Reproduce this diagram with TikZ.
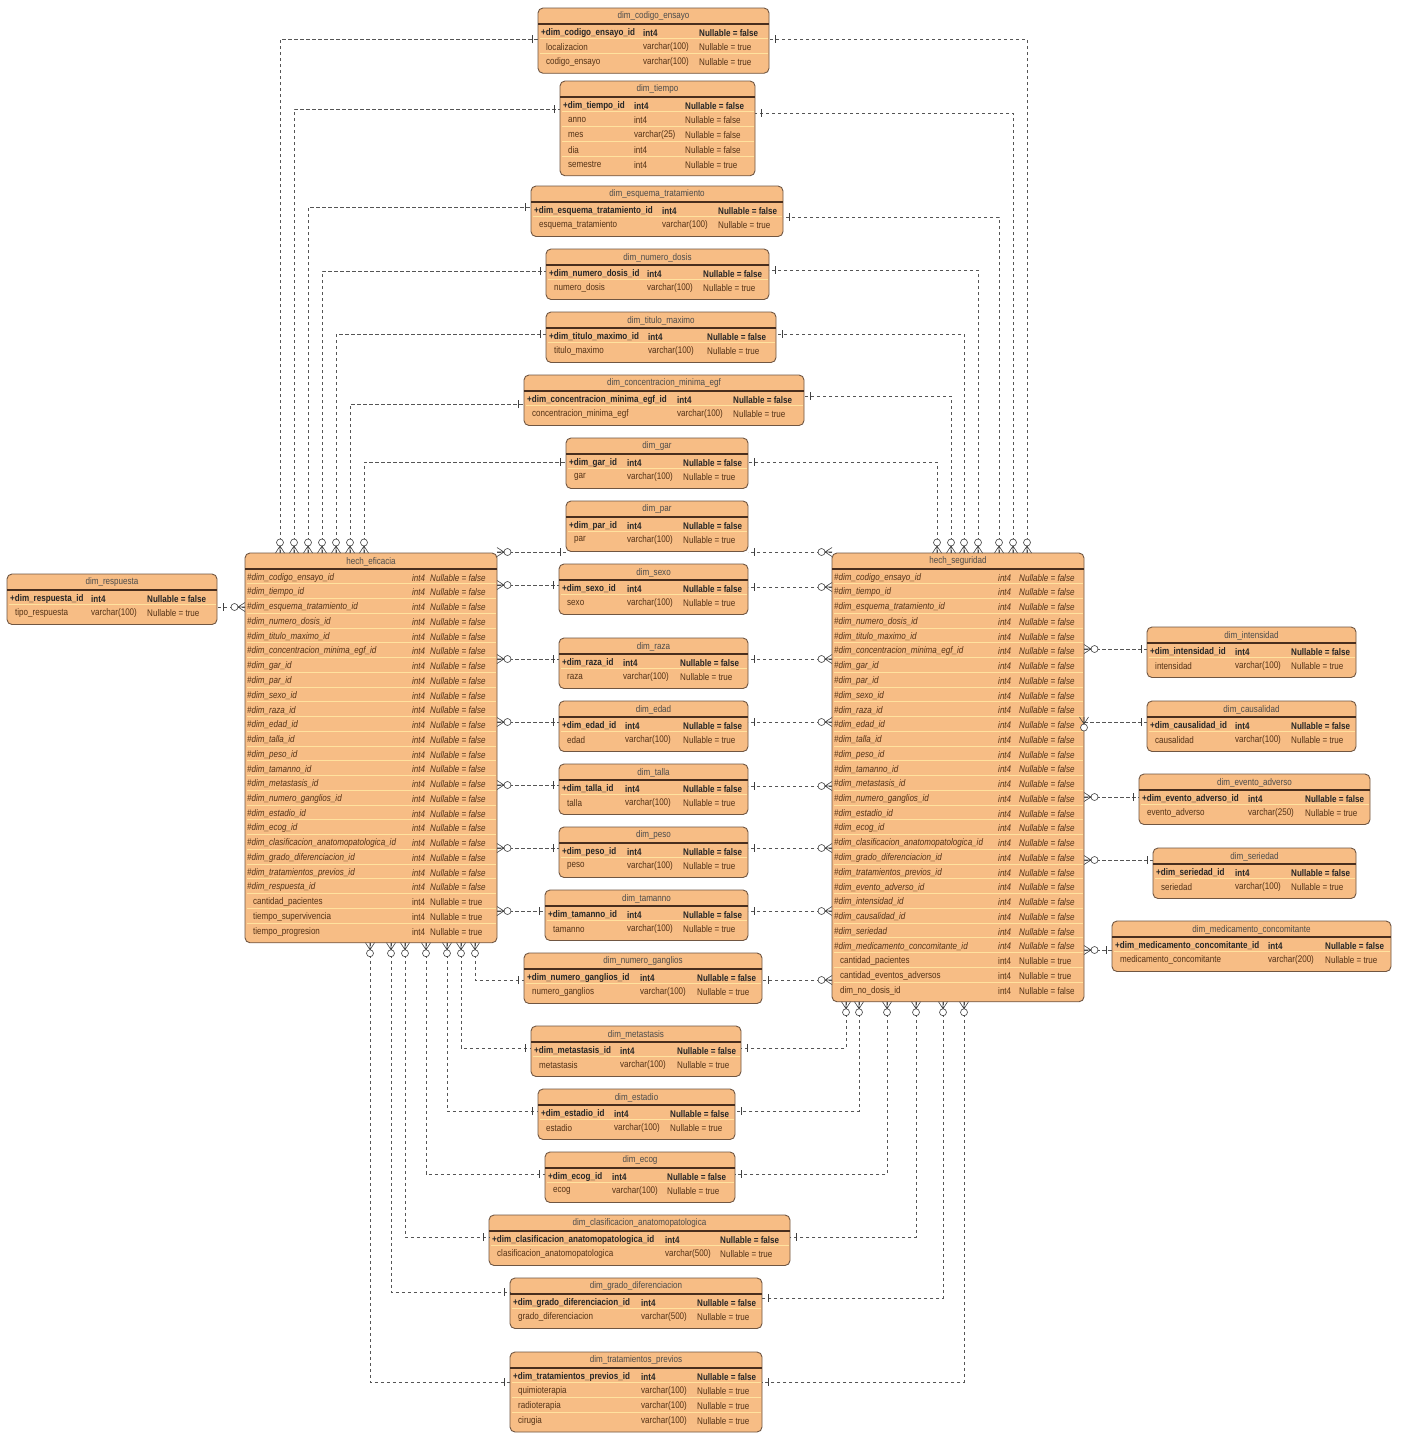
\documentclass[tikz,border=0pt]{standalone}
\usepackage{fontspec}
\setmainfont{Liberation Sans}[FakeStretch=0.84]

\definecolor{tablafondo}{RGB}{247,189,133}
\definecolor{tablaborde}{RGB}{112,86,66}
\definecolor{cabecera}{RGB}{72,46,30}
\definecolor{separador}{RGB}{255,226,158}
\definecolor{texto}{RGB}{84,50,22}
\definecolor{relacion}{RGB}{85,85,85}

\tikzset{
  tabla/.style={draw=tablaborde, fill=tablafondo, rounded corners=5pt, line width=0.9pt, inner sep=0pt, outer sep=0pt},
  celda/.style={anchor=west, inner sep=0pt, text=texto, font=\fontsize{9.6}{10}\selectfont},
  clave/.style={celda, text=black!85, font=\fontsize{9.6}{10}\selectfont\bfseries},
  foranea/.style={celda, font=\fontsize{9.6}{10}\selectfont\itshape},
  titulo/.style={celda, anchor=center, text=black!70},
  rel/.style={draw=relacion, line width=0.6pt, dash pattern=on 3.5pt off 2.5pt},
  marca/.style={draw=black!75, line width=0.6pt},
}

\catcode`\_=12

% table frame: name, left, top, right, rows
\newcommand{\tabla}[5]{%
  \pgfmathsetmacro{\ancho}{#4-#2}
  \pgfmathsetmacro{\alto}{21+14.75*#5}
  \pgfmathtruncatemacro{\ultima}{#5-1}
  \node[tabla, anchor=north west, minimum width=\ancho pt, minimum height=\alto pt] (#1) at (#2,#3) {};
  \foreach \k in {1,...,\ultima}
    \draw[separador, line width=0.8pt] ([shift={(1.5,16+14.75*\k)}]#1.north west) -- ([shift={(-1.5,16+14.75*\k)}]#1.north east);
  \draw[cabecera, line width=1.1pt] ([yshift=-16pt]#1.north west) -- ([yshift=-16pt]#1.north east);
  \node[titulo] at ([yshift=-8.5pt]#1.north) {#1};
}

% dim rows: table, type column, null column, rows (first one is the key)
\newcommand{\filas}[4]{%
  \foreach \campo/\tipo/\nulo [count=\i] in {#4} {
    \pgfmathsetmacro{\dy}{17.2+14.75*(\i-0.5)}
    \ifnum\i=1
      \node[clave] at ([shift={(3,\dy)}]#1.north west) {\campo};
      \node[clave] at ([shift={(#2,\dy)}]#1.north west) {\tipo};
      \node[clave] at ([shift={(#3,\dy)}]#1.north west) {\nulo};
    \else
      \node[celda] at ([shift={(8,\dy)}]#1.north west) {\campo};
      \node[celda] at ([shift={(#2,\dy)}]#1.north west) {\tipo};
      \node[celda] at ([shift={(#3,\dy)}]#1.north west) {\nulo};
    \fi
  }
}

% fact rows: table, type column, null column, foreign keys, first plain row, plain rows
\newcommand{\filashecho}[6]{%
  \foreach \campo [count=\i] in {#4} {
    \pgfmathsetmacro{\dy}{17.2+14.75*(\i-0.5)}
    \node[foranea] at ([shift={(2,\dy)}]#1.north west) {\#\campo};
    \node[foranea] at ([shift={(#2,\dy)}]#1.north west) {int4};
    \node[foranea] at ([shift={(#3,\dy)}]#1.north west) {Nullable = false};
  }
  \foreach \campo/\nulo [count=\i from #5] in {#6} {
    \pgfmathsetmacro{\dy}{17.2+14.75*(\i-0.5)}
    \node[celda] at ([shift={(8,\dy)}]#1.north west) {\campo};
    \node[celda] at ([shift={(#2,\dy)}]#1.north west) {int4};
    \node[celda] at ([shift={(#3,\dy)}]#1.north west) {\nulo};
  }
}

% zero or many end, one end
\newcommand{\muchos}[2]{%
  \draw[marca, shift={(#1)}, rotate=#2] (0,-4.5) -- (7,0) -- (0,4.5) (0,0) -- (7,0);
  \draw[marca, fill=white, shift={(#1)}, rotate=#2] (10.5,0) circle (3.5);
}
\newcommand{\uno}[2]{%
  \draw[marca, shift={(#1)}, rotate=#2] (6,-4) -- (6,4);
}

\begin{document}
\begin{tikzpicture}[x=1pt, y=-1pt]
  \fill[white] (0,0) rectangle (1404,1435);
  \useasboundingbox (0,0) rectangle (1404,1435);

  % fact tables
  \tabla{hech_eficacia}{245}{553}{497}{25}
  \filashecho{hech_eficacia}{167}{185}{dim_codigo_ensayo_id, dim_tiempo_id, dim_esquema_tratamiento_id,
    dim_numero_dosis_id, dim_titulo_maximo_id, dim_concentracion_minima_egf_id, dim_gar_id, dim_par_id,
    dim_sexo_id, dim_raza_id, dim_edad_id, dim_talla_id, dim_peso_id, dim_tamanno_id, dim_metastasis_id,
    dim_numero_ganglios_id, dim_estadio_id, dim_ecog_id, dim_clasificacion_anatomopatologica_id,
    dim_grado_diferenciacion_id, dim_tratamientos_previos_id, dim_respuesta_id}{23}%
    {cantidad_pacientes/Nullable = true, tiempo_supervivencia/Nullable = true, tiempo_progresion/Nullable = true}

  \tabla{hech_seguridad}{832}{553}{1084}{29}
  \filashecho{hech_seguridad}{166}{187}{dim_codigo_ensayo_id, dim_tiempo_id, dim_esquema_tratamiento_id,
    dim_numero_dosis_id, dim_titulo_maximo_id, dim_concentracion_minima_egf_id, dim_gar_id, dim_par_id,
    dim_sexo_id, dim_raza_id, dim_edad_id, dim_talla_id, dim_peso_id, dim_tamanno_id, dim_metastasis_id,
    dim_numero_ganglios_id, dim_estadio_id, dim_ecog_id, dim_clasificacion_anatomopatologica_id,
    dim_grado_diferenciacion_id, dim_tratamientos_previos_id, dim_evento_adverso_id, dim_intensidad_id,
    dim_causalidad_id, dim_seriedad, dim_medicamento_concomitante_id}{27}%
    {cantidad_pacientes/Nullable = true, cantidad_eventos_adversos/Nullable = true, dim_no_dosis_id/Nullable = false}

  % dims, top column
  \tabla{dim_codigo_ensayo}{538}{8}{769}{3}
  \filas{dim_codigo_ensayo}{105}{161}{+dim_codigo_ensayo_id/int4/Nullable = false,
    localizacion/varchar(100)/Nullable = true, codigo_ensayo/varchar(100)/Nullable = true}
  \tabla{dim_tiempo}{560}{81}{755}{5}
  \filas{dim_tiempo}{74}{125}{+dim_tiempo_id/int4/Nullable = false, anno/int4/Nullable = false,
    mes/varchar(25)/Nullable = false, dia/int4/Nullable = false, semestre/int4/Nullable = true}
  \tabla{dim_esquema_tratamiento}{531}{186}{783}{2}
  \filas{dim_esquema_tratamiento}{131}{187}{+dim_esquema_tratamiento_id/int4/Nullable = false,
    esquema_tratamiento/varchar(100)/Nullable = true}
  \tabla{dim_numero_dosis}{546}{249}{769}{2}
  \filas{dim_numero_dosis}{101}{157}{+dim_numero_dosis_id/int4/Nullable = false, numero_dosis/varchar(100)/Nullable = true}
  \tabla{dim_titulo_maximo}{546}{312}{776}{2}
  \filas{dim_titulo_maximo}{102}{161}{+dim_titulo_maximo_id/int4/Nullable = false, titulo_maximo/varchar(100)/Nullable = true}
  \tabla{dim_concentracion_minima_egf}{524}{375}{804}{2}
  \filas{dim_concentracion_minima_egf}{153}{209}{+dim_concentracion_minima_egf_id/int4/Nullable = false,
    concentracion_minima_egf/varchar(100)/Nullable = true}
  \tabla{dim_gar}{566}{438}{748}{2}
  \filas{dim_gar}{61}{117}{+dim_gar_id/int4/Nullable = false, gar/varchar(100)/Nullable = true}

  % dims, middle column
  \tabla{dim_par}{566}{501}{748}{2}
  \filas{dim_par}{61}{117}{+dim_par_id/int4/Nullable = false, par/varchar(100)/Nullable = true}
  \tabla{dim_sexo}{559}{564}{748}{2}
  \filas{dim_sexo}{68}{124}{+dim_sexo_id/int4/Nullable = false, sexo/varchar(100)/Nullable = true}
  \tabla{dim_raza}{559}{638}{748}{2}
  \filas{dim_raza}{64}{121}{+dim_raza_id/int4/Nullable = false, raza/varchar(100)/Nullable = true}
  \tabla{dim_edad}{559}{701}{748}{2}
  \filas{dim_edad}{66}{124}{+dim_edad_id/int4/Nullable = false, edad/varchar(100)/Nullable = true}
  \tabla{dim_talla}{559}{764}{748}{2}
  \filas{dim_talla}{66}{124}{+dim_talla_id/int4/Nullable = false, talla/varchar(100)/Nullable = true}
  \tabla{dim_peso}{559}{827}{748}{2}
  \filas{dim_peso}{68}{124}{+dim_peso_id/int4/Nullable = false, peso/varchar(100)/Nullable = true}
  \tabla{dim_tamanno}{545}{890}{748}{2}
  \filas{dim_tamanno}{82}{138}{+dim_tamanno_id/int4/Nullable = false, tamanno/varchar(100)/Nullable = true}
  \tabla{dim_numero_ganglios}{524}{953}{762}{2}
  \filas{dim_numero_ganglios}{116}{173}{+dim_numero_ganglios_id/int4/Nullable = false,
    numero_ganglios/varchar(100)/Nullable = true}

  % dims, bottom column
  \tabla{dim_metastasis}{531}{1026}{741}{2}
  \filas{dim_metastasis}{89}{146}{+dim_metastasis_id/int4/Nullable = false, metastasis/varchar(100)/Nullable = true}
  \tabla{dim_estadio}{538}{1089}{735}{2}
  \filas{dim_estadio}{76}{132}{+dim_estadio_id/int4/Nullable = false, estadio/varchar(100)/Nullable = true}
  \tabla{dim_ecog}{545}{1152}{735}{2}
  \filas{dim_ecog}{67}{122}{+dim_ecog_id/int4/Nullable = false, ecog/varchar(100)/Nullable = true}
  \tabla{dim_clasificacion_anatomopatologica}{489}{1215}{790}{2}
  \filas{dim_clasificacion_anatomopatologica}{176}{231}{+dim_clasificacion_anatomopatologica_id/int4/Nullable = false,
    clasificacion_anatomopatologica/varchar(500)/Nullable = true}
  \tabla{dim_grado_diferenciacion}{510}{1278}{762}{2}
  \filas{dim_grado_diferenciacion}{131}{187}{+dim_grado_diferenciacion_id/int4/Nullable = false,
    grado_diferenciacion/varchar(500)/Nullable = true}
  \tabla{dim_tratamientos_previos}{510}{1352}{762}{4}
  \filas{dim_tratamientos_previos}{131}{187}{+dim_tratamientos_previos_id/int4/Nullable = false,
    quimioterapia/varchar(100)/Nullable = true, radioterapia/varchar(100)/Nullable = true,
    cirugia/varchar(100)/Nullable = true}

  % dims, right and left
  \tabla{dim_intensidad}{1147}{627}{1356}{2}
  \filas{dim_intensidad}{88}{144}{+dim_intensidad_id/int4/Nullable = false, intensidad/varchar(100)/Nullable = true}
  \tabla{dim_causalidad}{1147}{701}{1356}{2}
  \filas{dim_causalidad}{88}{144}{+dim_causalidad_id/int4/Nullable = false, causalidad/varchar(100)/Nullable = true}
  \tabla{dim_evento_adverso}{1139}{774}{1370}{2}
  \filas{dim_evento_adverso}{109}{166}{+dim_evento_adverso_id/int4/Nullable = false,
    evento_adverso/varchar(250)/Nullable = true}
  \tabla{dim_seriedad}{1153}{848}{1356}{2}
  \filas{dim_seriedad}{82}{138}{+dim_seriedad_id/int4/Nullable = false, seriedad/varchar(100)/Nullable = true}
  \tabla{dim_medicamento_concomitante}{1112}{921}{1391}{2}
  \filas{dim_medicamento_concomitante}{156}{213}{+dim_medicamento_concomitante_id/int4/Nullable = false,
    medicamento_concomitante/varchar(200)/Nullable = true}
  \tabla{dim_respuesta}{7}{574}{217}{2}
  \filas{dim_respuesta}{84}{140}{+dim_respuesta_id/int4/Nullable = false, tipo_respuesta/varchar(100)/Nullable = true}

  % relations above the facts
  \foreach \tab/\dx/\y in {dim_codigo_ensayo/35/39, dim_tiempo/49/109, dim_esquema_tratamiento/63/207,
      dim_numero_dosis/77/271, dim_titulo_maximo/91/334, dim_concentracion_minima_egf/105/404, dim_gar/119/462} {
    \coordinate (pie) at ([xshift=\dx pt]hech_eficacia.north west);
    \coordinate (extremo) at (\tab.west |- 0,\y);
    \draw[rel] (pie) |- (extremo);
    \muchos{pie}{90}
    \uno{extremo}{180}
  }
  \foreach \tab/\dx/\y in {dim_codigo_ensayo/195/39, dim_tiempo/181/113, dim_esquema_tratamiento/167/217,
      dim_numero_dosis/146/270, dim_titulo_maximo/132/334, dim_concentracion_minima_egf/119/396, dim_gar/105/462} {
    \coordinate (pie) at ([xshift=\dx pt]hech_seguridad.north west);
    \coordinate (extremo) at (\tab.east |- 0,\y);
    \draw[rel] (pie) |- (extremo);
    \muchos{pie}{90}
    \uno{extremo}{0}
  }

  % relations between the facts
  \foreach \tab/\y in {dim_par/552, dim_sexo/585, dim_raza/659, dim_edad/722, dim_talla/785,
      dim_peso/848, dim_tamanno/911} {
    \coordinate (pie) at (hech_eficacia.east |- 0,\y);
    \coordinate (extremo) at (\tab.west |- 0,\y);
    \draw[rel] (pie) -- (extremo);
    \muchos{pie}{0}
    \uno{extremo}{180}
  }
  \foreach \tab/\y in {dim_par/552, dim_sexo/587, dim_raza/659, dim_edad/722, dim_talla/786,
      dim_peso/848, dim_tamanno/911, dim_numero_ganglios/980} {
    \coordinate (pie) at (hech_seguridad.west |- 0,\y);
    \coordinate (extremo) at (\tab.east |- 0,\y);
    \draw[rel] (pie) -- (extremo);
    \muchos{pie}{180}
    \uno{extremo}{0}
  }

  % relations below the facts
  \foreach \tab/\dx/\y in {dim_numero_ganglios/230/980, dim_metastasis/216/1048, dim_estadio/202/1111,
      dim_ecog/181/1174, dim_clasificacion_anatomopatologica/160/1237, dim_grado_diferenciacion/146/1292,
      dim_tratamientos_previos/125/1382} {
    \coordinate (pie) at ([xshift=\dx pt]hech_eficacia.south west);
    \coordinate (extremo) at (\tab.west |- 0,\y);
    \draw[rel] (pie) |- (extremo);
    \muchos{pie}{270}
    \uno{extremo}{180}
  }
  \foreach \tab/\dx/\y in {dim_metastasis/14/1048, dim_estadio/27/1111, dim_ecog/55/1174,
      dim_clasificacion_anatomopatologica/84/1237, dim_grado_diferenciacion/111/1298,
      dim_tratamientos_previos/132/1382} {
    \coordinate (pie) at ([xshift=\dx pt]hech_seguridad.south west);
    \coordinate (extremo) at (\tab.east |- 0,\y);
    \draw[rel] (pie) |- (extremo);
    \muchos{pie}{270}
    \uno{extremo}{0}
  }

  % relations at the sides
  \foreach \tab/\y in {dim_intensidad/649, dim_evento_adverso/797, dim_seriedad/860,
      dim_medicamento_concomitante/950} {
    \coordinate (pie) at (hech_seguridad.east |- 0,\y);
    \coordinate (extremo) at (\tab.west |- 0,\y);
    \draw[rel] (pie) -- (extremo);
    \muchos{pie}{0}
    \uno{extremo}{180}
  }
  \coordinate (pie) at (hech_seguridad.east |- 0,722);
  \coordinate (extremo) at (dim_causalidad.west |- 0,722);
  \draw[rel] (pie) -- (extremo);
  \coordinate (pata) at ([yshift=5pt]pie);
  \muchos{pata}{270}
  \uno{extremo}{180}

  \coordinate (pie) at (hech_eficacia.west |- 0,607);
  \coordinate (extremo) at (dim_respuesta.east |- 0,607);
  \draw[rel] (pie) -- (extremo);
  \muchos{pie}{180}
  \uno{extremo}{0}
\end{tikzpicture}
\end{document}
